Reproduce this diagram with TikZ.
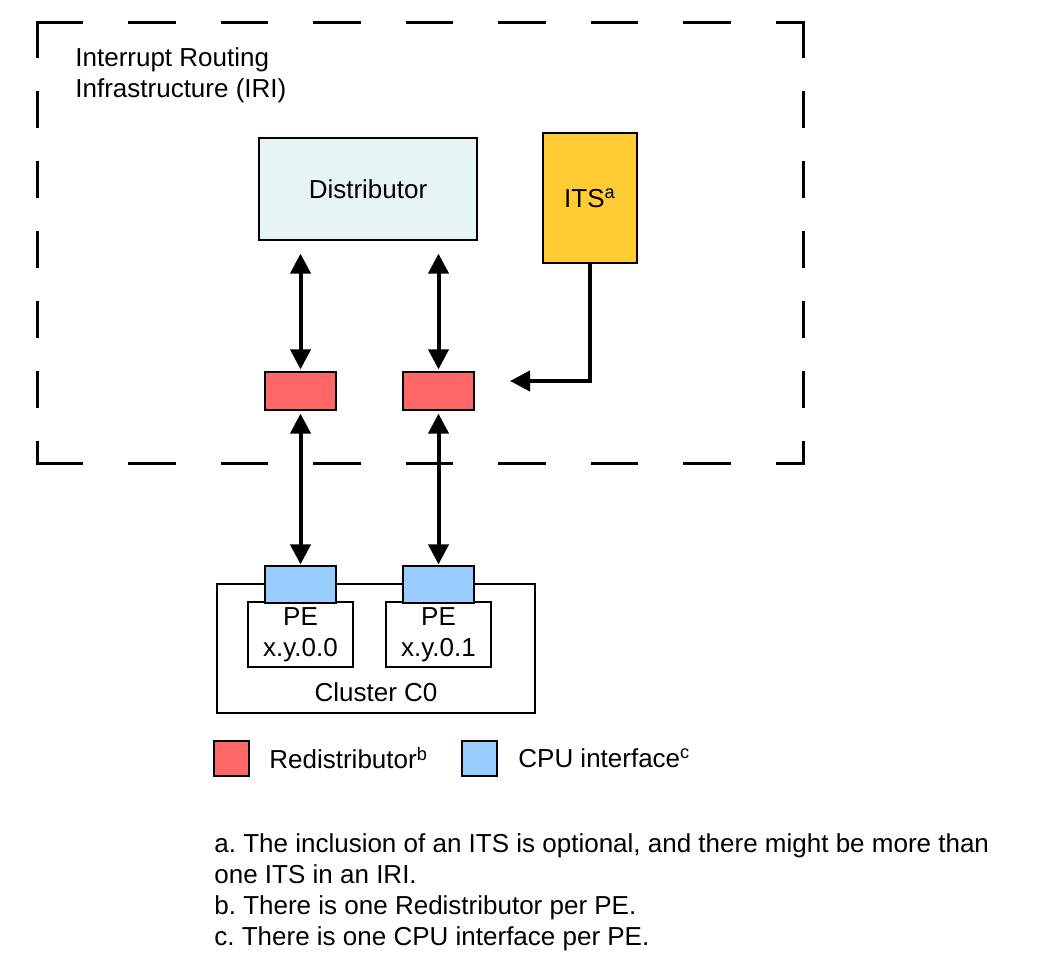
\documentclass[tikz,border=0pt]{standalone}
\usepackage{fontspec}
\setmainfont{Liberation Sans}
\usepackage{tikz}
\usetikzlibrary{arrows.meta,positioning}

\definecolor{distfill}{HTML}{E6F4F4}
\definecolor{itsfill}{HTML}{FFCC33}
\definecolor{redfill}{HTML}{FF6666}
\definecolor{cpufill}{HTML}{99CCFF}

\begin{document}
\begin{tikzpicture}[x=0.5pt,y=-0.5pt,
    every node/.style={font=\fontsize{13}{15.5}\selectfont},
    box/.style={draw, line width=0.6pt, inner sep=0pt},
    redist/.style={box, fill=redfill, minimum width=35.5pt, minimum height=19pt},
    cpuif/.style={box, fill=cpufill, minimum width=35.5pt, minimum height=18.5pt},
    pebox/.style={box, fill=white, minimum width=52.5pt, minimum height=32.5pt, align=center},
    frameh/.style={line width=1.5pt, line cap=rect, dash pattern=on 22.4pt off 23.85pt},
    framev/.style={line width=1.5pt, line cap=rect, dash pattern=on 16.75pt off 18.25pt},
    link/.style={line width=2pt, -{Triangle[width=10pt,length=10pt]}},
    biarrow/.style={line width=2pt, {Triangle[width=10pt,length=10pt]}-{Triangle[width=10pt,length=10pt]}}]
  \useasboundingbox (0,0) rectangle (1038,967);

  % IRI frame
  \coordinate (fnw) at (37,23);
  \coordinate (fne) at (803,23);
  \coordinate (fsw) at (37,464);
  \coordinate (fse) at (803,464);
  \draw[frameh] (fnw) -- (fne);
  \draw[frameh] (fsw) -- (fse);
  \draw[framev] (fnw) -- (fsw);
  \draw[framev] (fne) -- (fse);
  \node[anchor=west, inner sep=0pt, align=left] (iri) at (75,75) {Interrupt Routing\\Infrastructure (IRI)};

  \node[box, fill=distfill, minimum width=109pt, minimum height=51pt] (dist) at (368,189) {Distributor};
  \node[box, fill=itsfill, minimum width=47pt, minimum height=65pt] (its) at (590,198) {ITS\textsuperscript{a}};

  \node[redist] (rd0) at (300.5,391) {};
  \node[redist] (rd1) at (438.5,391) {};

  % cluster
  \node[box, minimum width=159pt, minimum height=64.5pt] (cluster) at (376,648.5) {};
  \node (clabel) at (376,692) {Cluster C0};
  \node[pebox] (pe0) at (300.5,634.5) {PE\\x.y.0.0};
  \node[pebox] (pe1) at (438.5,634.5) {PE\\x.y.0.1};
  \node[cpuif] (cpu0) at (300.5,584.5) {};
  \node[cpuif] (cpu1) at (438.5,584.5) {};

  % connectors
  \draw[biarrow, shorten <=1pt, shorten >=6.5pt] (rd0.north) -- (rd0.north |- dist.south);
  \draw[biarrow, shorten <=1pt, shorten >=6.5pt] (rd1.north) -- (rd1.north |- dist.south);
  \draw[biarrow, shorten <=1.5pt, shorten >=0.5pt] (rd0.south) -- (cpu0.north);
  \draw[biarrow, shorten <=1.5pt, shorten >=0.5pt] (rd1.south) -- (cpu1.north);
  \coordinate (itsin) at (510,381);
  \draw[link] (its.south) |- (itsin);

  % legend
  \node[redist, minimum width=17.5pt, minimum height=17.5pt] (keyrd) at (231.5,758.5) {};
  \node[anchor=west, inner sep=0pt] (keyrdtxt) at (269,758) {Redistributor\textsuperscript{b}};
  \node[cpuif, minimum width=17.5pt, minimum height=17.5pt] (keycpu) at (479.5,758.5) {};
  \node[anchor=west, inner sep=0pt] (keycputxt) at (518,758) {CPU interface\textsuperscript{c}};

  % footnotes
  \node[anchor=north west, inner sep=0pt, align=left] (notes) at (214,833)
    {a.\ The inclusion of an ITS is optional, and there might be more than\\
     one ITS in an IRI.\\
     b.\ There is one Redistributor per PE.\\
     c.\ There is one CPU interface per PE.};
\end{tikzpicture}
\end{document}
